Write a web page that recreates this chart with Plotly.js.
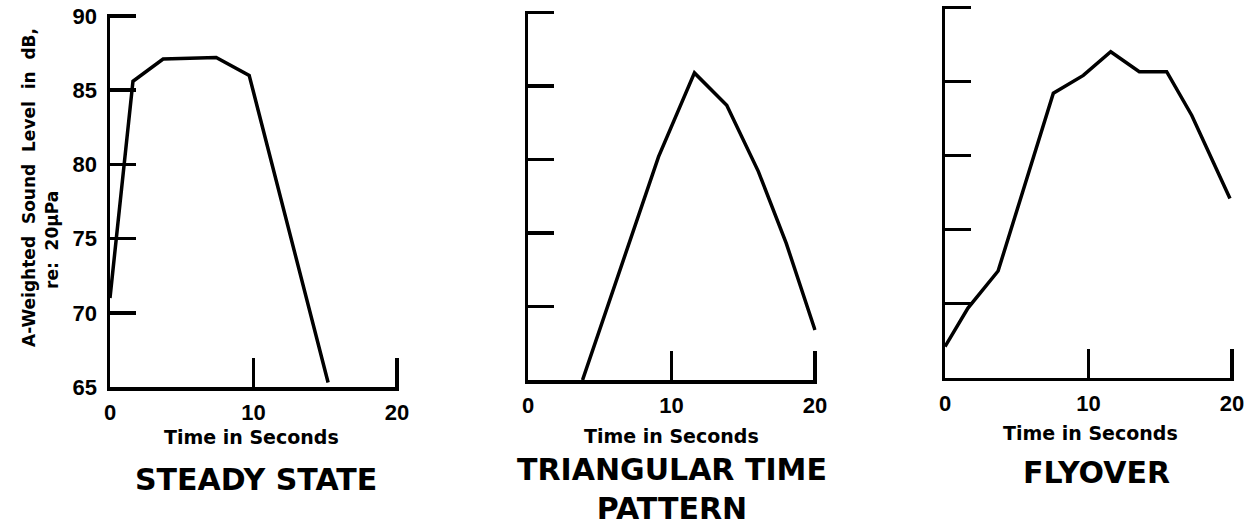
<!DOCTYPE html>
<html>
<head>
<meta charset="utf-8">
<script src="https://cdn.plot.ly/plotly-3.0.1.min.js"></script>
<style>
  html, body { margin: 0; padding: 0; background: #fff; }
  #chart { width: 1250px; height: 526px; }
</style>
</head>
<body>
<div id="chart"></div>
<script>
// ---- Data ----
const steadyTime  = [0, 1.6, 3.7, 7.4, 9.7, 15.2];
const steadyLevel = [71, 85.6, 87.1, 87.2, 86.0, 65.3];

const triTime  = [3.8, 9.1, 11.6, 13.85, 16.05, 18.0, 20.0];
const triLevel = [65, 80.2, 85.9, 83.7, 79.2, 74.3, 68.4];

const flyTime  = [0, 1.6, 3.7, 7.55, 9.64, 11.55, 13.54, 15.45, 17.2, 19.86];
const flyLevel = [67.1, 69.7, 72.2, 84.2, 85.4, 87.0, 85.65, 85.65, 82.7, 77.1];

const xTicks = [0, 10, 20];
const xTickText = ['0', '10', '20'];
const yTicks = [65, 70, 75, 80, 85, 90];
const yTickText = ['65', '70', '75', '80', '85', '90'];

const panelTitles = ['STEADY STATE', 'TRIANGULAR TIME<br>PATTERN', 'FLYOVER'];
const xTitle = 'Time in Seconds';
const yTitleLine1 = 'A-Weighted  Sound  Level  in  dB,';
const yTitleLine2 = 're:  20\u03BCPa';

// ---- Styling ----
const W = 1250, H = 526;
const px = v => v / W;
const py = v => 1 - v / H;
const tickFont = { family: 'Liberation Sans, Arial, sans-serif', size: 22, color: '#000', weight: 'bold' };
const labelFont = { family: 'DejaVu Sans, sans-serif', size: 19, color: '#000', weight: 'bold' };
const titleFont = { family: 'DejaVu Sans, sans-serif', size: 30, color: '#000', weight: 'bold' };
const yTitleFont = { family: 'DejaVu Sans, sans-serif', size: 17, color: '#000', weight: 'bold' };

function line(x, y, xa, ya) {
  return { x: x, y: y, xaxis: xa, yaxis: ya, mode: 'lines', type: 'scatter',
           line: { color: '#000', width: 3.5 }, hoverinfo: 'skip', showlegend: false };
}

// far ends padded slightly (>1px) so Plotly keeps the inside ticks at 20 and 90
function xAxis(domain, anchor) {
  return { domain: domain, anchor: anchor, range: [0, 20.12], showgrid: false, zeroline: false,
           showline: true, linecolor: '#000', linewidth: 3.5,
           ticks: 'inside', ticklen: 29, tickwidth: 3.5, tickcolor: '#000',
           tickvals: xTicks, ticktext: xTickText, tickfont: tickFont, ticklabelstandoff: 3,
           fixedrange: true };
}
function yAxis(domain, anchor, showLabels) {
  return { domain: domain, anchor: anchor, range: [65, 90.12], showgrid: false, zeroline: false,
           showline: true, linecolor: '#000', linewidth: 3.5,
           ticks: 'inside', ticklen: 26, tickwidth: 3.5, tickcolor: '#000',
           tickvals: yTicks, ticktext: yTickText, showticklabels: showLabels,
           tickfont: tickFont, ticklabelstandoff: 5, fixedrange: true };
}

const data = [
  line(steadyTime, steadyLevel, 'x', 'y'),
  line(triTime, triLevel, 'x2', 'y2'),
  line(flyTime, flyLevel, 'x3', 'y3')
];

function ann(text, x, y, font, extra) {
  return Object.assign({ text: text, x: px(x), y: py(y), xref: 'paper', yref: 'paper',
           xanchor: 'center', yanchor: 'middle', showarrow: false, font: font }, extra || {});
}

const layout = {
  width: W, height: H,
  margin: { l: 0, r: 0, t: 0, b: 0 },
  paper_bgcolor: '#fff', plot_bgcolor: 'rgba(0,0,0,0)',
  showlegend: false,
  xaxis:  xAxis([px(110), px(398.7)], 'y'),
  yaxis:  yAxis([py(387), py(14.2)], 'x', true),
  xaxis2: xAxis([px(528), px(816.7)], 'y2'),
  yaxis2: yAxis([py(380), py(10.9)], 'x2', false),
  xaxis3: xAxis([px(945), px(1233.7)], 'y3'),
  yaxis3: yAxis([py(377.7), py(5.5)], 'x3', false),
  annotations: [
    ann(xTitle, 251, 437, labelFont),
    ann(xTitle, 671, 436, labelFont),
    ann(xTitle, 1090, 433, labelFont),
    ann(panelTitles[0], 256, 479, titleFont),
    ann(panelTitles[1], 672, 489, titleFont),
    ann(panelTitles[2], 1096, 472, titleFont),
    ann(yTitleLine1, 29, 188, yTitleFont, { textangle: -90 }),
    ann(yTitleLine2, 52, 240, yTitleFont, { textangle: -90 })
  ]
};

Plotly.newPlot('chart', data, layout, { displayModeBar: false, staticPlot: true });
</script>
</body>
</html>
